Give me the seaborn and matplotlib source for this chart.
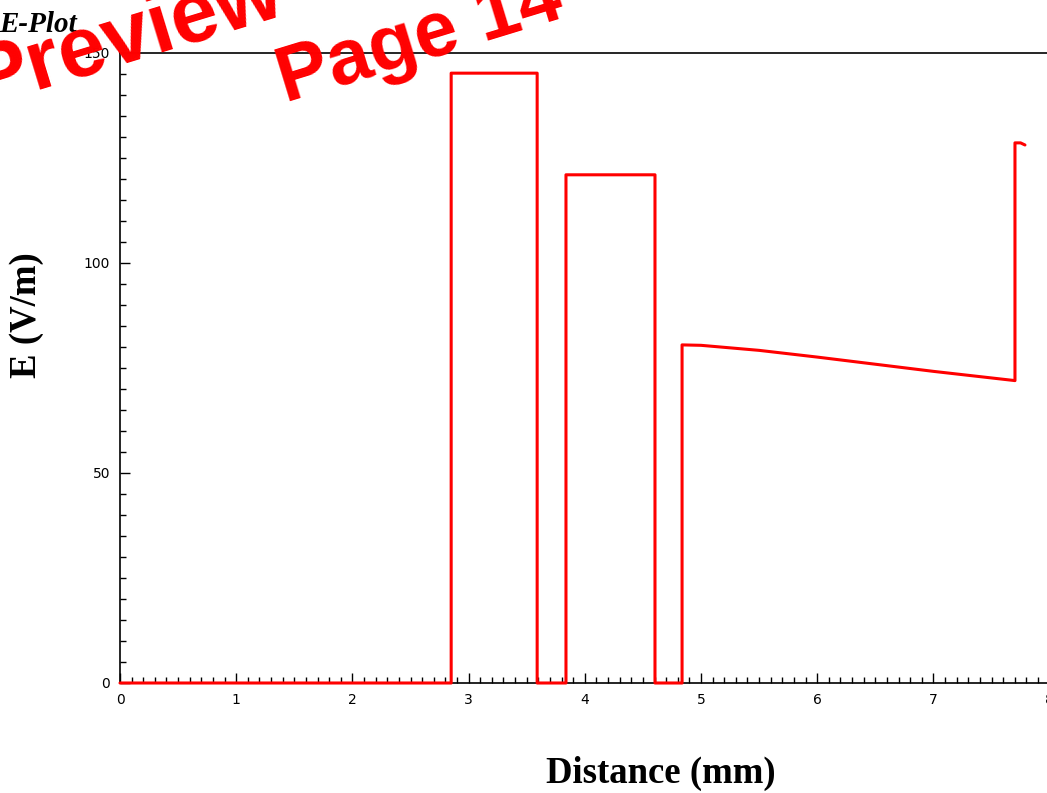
# E-Plot: electric field along the distance through the layers
import matplotlib
matplotlib.use("Agg")
import matplotlib.pyplot as plt
import seaborn as sns
import pandas as pd
from matplotlib.ticker import MultipleLocator

# field profile (x in mm, E in V/m)
distance = [0.0, 2.85, 2.85, 3.59, 3.59, 3.838, 3.838, 4.604, 4.604,
            4.837, 4.837, 5.0, 5.5, 6.0, 6.5, 7.0, 7.702, 7.702, 7.75, 7.788]
efield = [0.0, 0.0, 145.2, 145.2, 0.0, 0.0, 121.0, 121.0, 0.0,
          0.0, 80.5, 80.4, 79.2, 77.6, 75.9, 74.2, 72.0, 128.6, 128.6, 128.1]

x_ticks = [0, 1, 2, 3, 4, 5, 6, 7, 8]
y_ticks = [0, 50, 100, 150]

df = pd.DataFrame({"dist": distance, "E": efield})

sns.set_theme(style="ticks", rc={"figure.facecolor": "white", "axes.facecolor": "white",
                                 "text.color": "black", "axes.edgecolor": "black",
                                 "xtick.color": "black", "ytick.color": "black"})
plt.rcParams["font.family"] = ["DejaVu Sans"]

W, H = 1047, 793
fig = plt.figure(figsize=(W / 100, H / 100), dpi=100)
ax = fig.add_axes([120 / W, 1 - 683 / H, 929.6 / W, 630 / H])

sns.lineplot(data=df, x="dist", y="E", sort=False, estimator=None,
             color="red", linewidth=2.2, ax=ax, zorder=3, clip_on=False)

ax.set_xlim(0, 8)
ax.set_ylim(0, 150)
ax.set_xticks(x_ticks)
ax.set_yticks(y_ticks)
ax.xaxis.set_minor_locator(MultipleLocator(0.1))
ax.yaxis.set_minor_locator(MultipleLocator(5))
ax.tick_params(which="major", direction="in", length=7, width=1,
               labelsize=10, pad=7)
ax.tick_params(which="minor", direction="in", length=4, width=1)
ax.tick_params(axis="x", which="both", top=False)
ax.tick_params(axis="y", which="both", right=False)
ax.set_xlabel("")
ax.set_ylabel("")
for s in ["left", "bottom", "top"]:
    ax.spines[s].set_linewidth(1.2)

fig.text(661 / W, 1 - 773 / H, "Distance (mm)", ha="center", va="center",
         family=["Liberation Serif"], fontweight="bold", fontsize=26.5)
fig.text(26 / W, 1 - 315 / H, "E (V/m)", ha="center", va="center", rotation=90,
         family=["Liberation Serif"], fontweight="bold", fontsize=26.5)
fig.text(77 / W, 1 - 32 / H, "E-Plot", ha="right", va="baseline",
         family=["Liberation Serif"], fontweight="bold", fontstyle="italic", fontsize=21)

# watermark
fig.text(128 / W, 1 - 38 / H, "Preview", ha="center", va="center", rotation=17,
         family=["Liberation Sans"], fontweight="bold", fontsize=61, color="red")
fig.text(420 / W, 1 - 40 / H, "Page 14", ha="center", va="center", rotation=17,
         family=["Liberation Sans"], fontweight="bold", fontsize=56, color="red")

plt.savefig("out.png", dpi=100)
